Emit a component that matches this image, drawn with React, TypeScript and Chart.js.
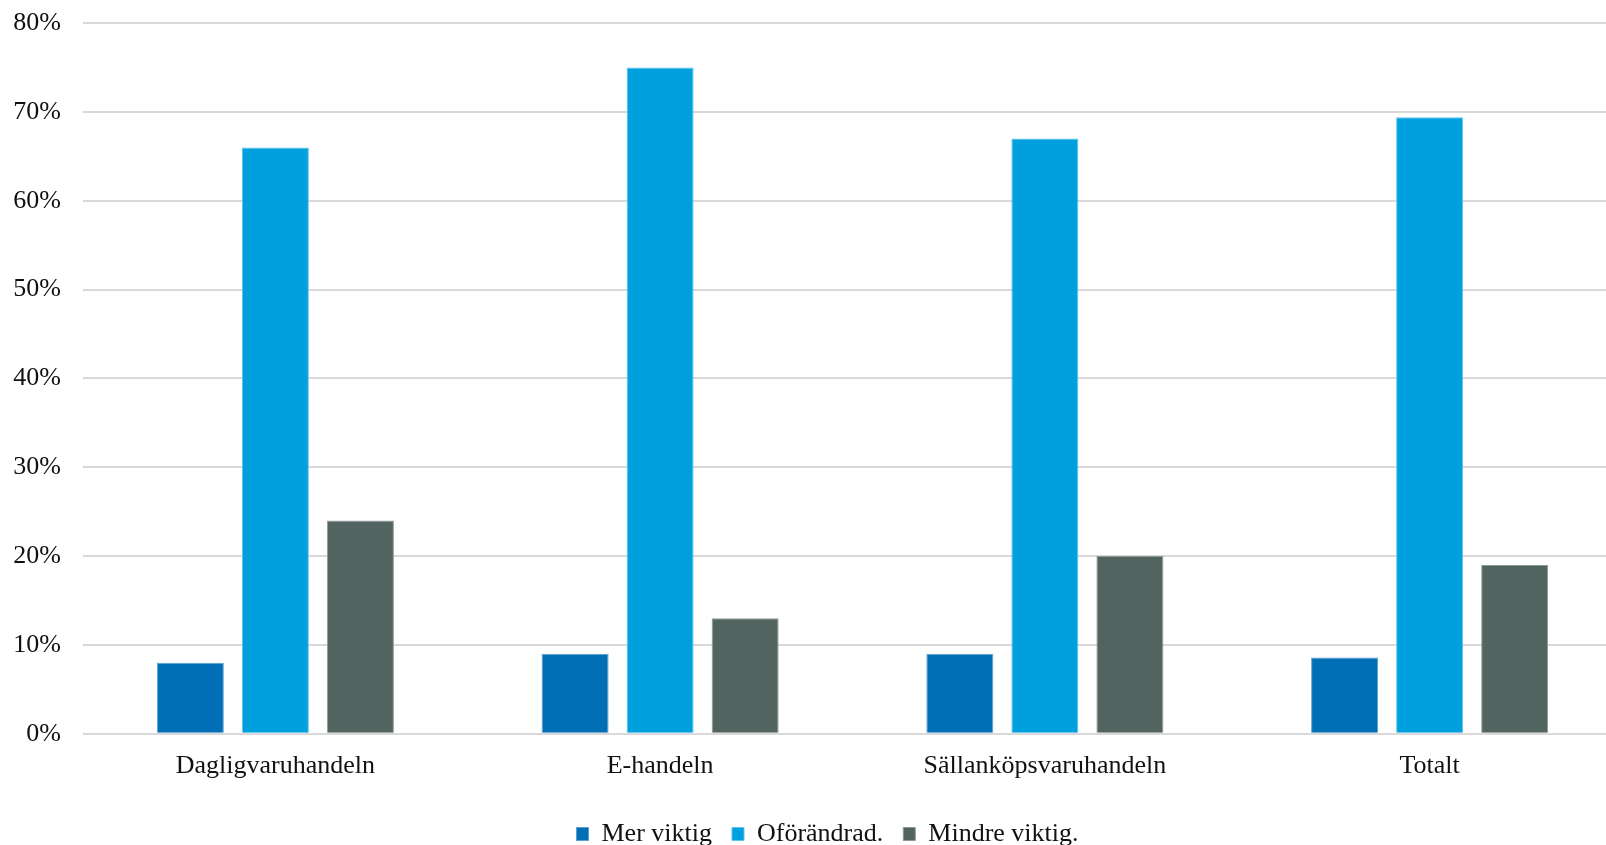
import React, { useEffect, useRef } from "react";
import { Chart, registerables } from "chart.js";

Chart.register(...registerables);

const categories = ["Dagligvaruhandeln", "E-handeln", "Sällanköpsvaruhandeln", "Totalt"];
const merViktig = [8, 9, 9, 8.6];
const oforandrad = [66, 75, 67, 69.4];
const mindreViktig = [24, 13, 20, 19];
const yTicks = [0, 10, 20, 30, 40, 50, 60, 70, 80];

const FONT = "'Liberation Serif', 'Times New Roman', serif";

export default function App() {
  const ref = useRef<HTMLCanvasElement | null>(null);

  useEffect(() => {
    const canvas = ref.current;
    if (!canvas) return;
    const chart = new Chart(canvas, {
      type: "bar",
      data: {
        labels: categories,
        datasets: [
          {
            label: "Mer viktig",
            data: merViktig,
            backgroundColor: "#006FB6",
            borderColor: "#5C9FD0",
            borderWidth: 1,
          },
          {
            label: "Oförändrad.",
            data: oforandrad,
            backgroundColor: "#00A0DF",
            borderColor: "#5CC3EC",
            borderWidth: 1,
          },
          {
            label: "Mindre viktig.",
            data: mindreViktig,
            backgroundColor: "#51645F",
            borderColor: "#8C9A97",
            borderWidth: 1,
          },
        ],
      },
      options: {
        responsive: false,
        animation: false,
        layout: { padding: { top: 23, left: 0, right: 0, bottom: 0 } },
        datasets: {
          bar: { categoryPercentage: 0.663, barPercentage: 0.788 },
        },
        scales: {
          x: {
            grid: { display: false, drawTicks: false },
            border: { display: false },
            afterFit: (scale: any) => {
              scale.height += 2;
            },
            ticks: {
              color: "#111",
              padding: 17,
              font: { family: FONT, size: 26 },
              maxRotation: 0,
            },
          },
          y: {
            min: 0,
            max: 80,
            afterFit: (scale: any) => {
              scale.width = 83;
              scale.paddingTop = 0;
              scale.paddingBottom = 0;
            },
            afterBuildTicks: (scale: any) => {
              scale.ticks = yTicks.map((v) => ({ value: v }));
            },
            grid: { color: "#D9D9D9", lineWidth: 2, drawTicks: false },
            border: { display: false },
            ticks: {
              color: "#111",
              padding: 22,
              font: { family: FONT, size: 26 },
              callback: (v: any) => `${v}%`,
            },
          },
          // empty margin on the right of the plot area
          yRight: {
            position: "right",
            grid: { display: false, drawTicks: false },
            border: { display: false },
            ticks: { display: false },
            afterFit: (scale: any) => {
              scale.width = 33;
              scale.paddingTop = 0;
              scale.paddingBottom = 0;
            },
          },
        },
        plugins: {
          tooltip: { enabled: false },
          legend: {
            position: "bottom",
            labels: {
              boxWidth: 12,
              boxHeight: 13,
              padding: 20,
              color: "#111",
              font: { family: FONT, size: 26 },
            },
          },
        },
      },
    });
    return () => chart.destroy();
  }, []);

  return (
    <div
      style={{
        position: "absolute",
        left: 0,
        top: 0,
        width: 1606,
        height: 845,
        overflow: "hidden",
        background: "#fff",
      }}
    >
      <canvas ref={ref} width={1655} height={857} style={{ display: "block" }} />
    </div>
  );
}
